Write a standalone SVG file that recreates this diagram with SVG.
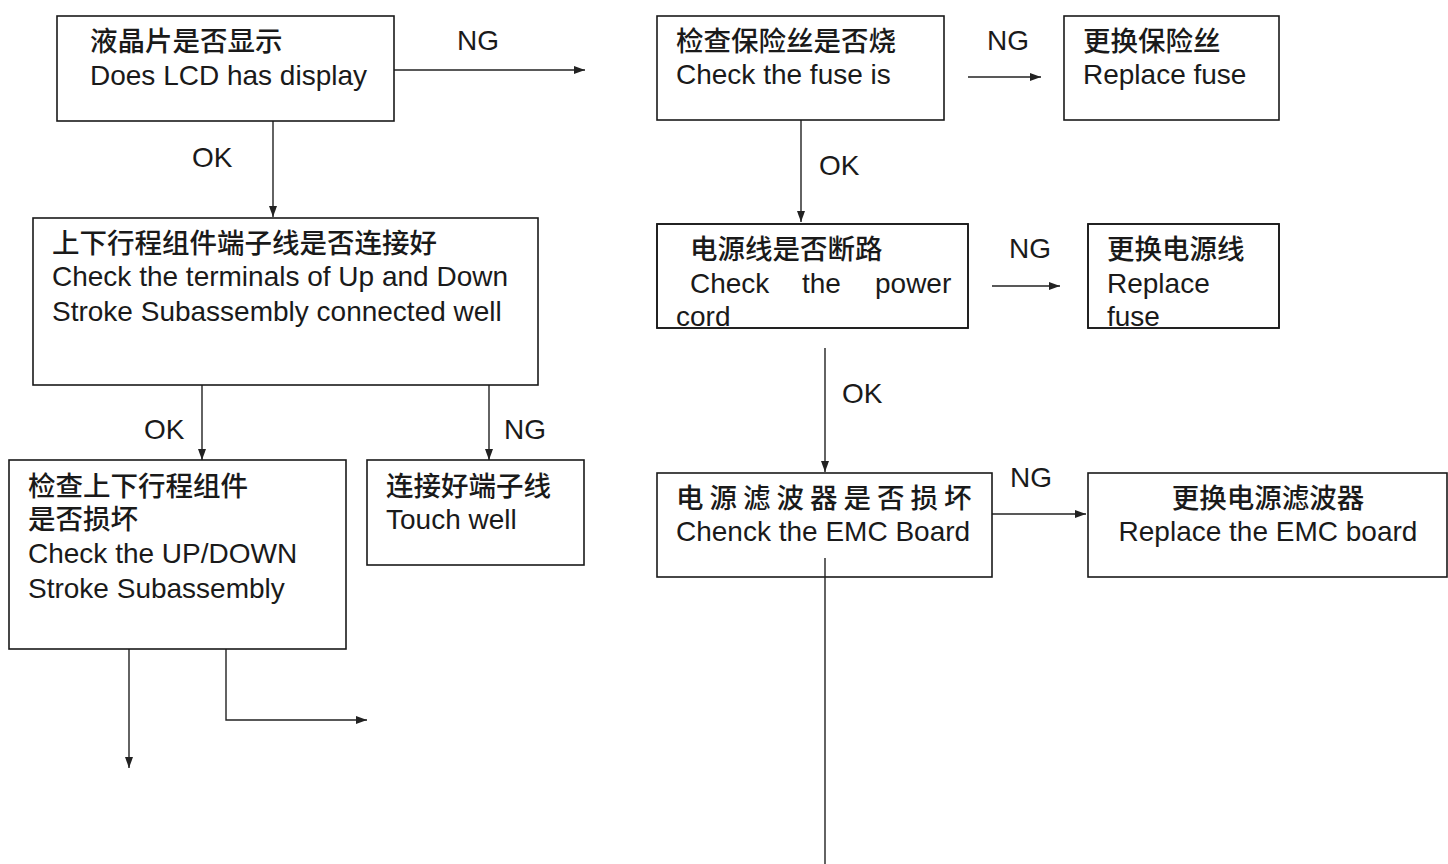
<svg xmlns="http://www.w3.org/2000/svg" width="1448" height="864" viewBox="0 0 1448 864">
<style>
.box{fill:#fff;stroke:#1a1a1a;stroke-width:1.6}
.t{font-family:"Liberation Sans","Noto Sans CJK SC",Arial,sans-serif;font-size:28px;fill:#1a1a1a}
.c{font-family:"Noto Sans CJK SC","Liberation Sans",sans-serif;font-size:27.5px;font-weight:500;fill:#1a1a1a}
.ln{fill:none;stroke:#222;stroke-width:1.4}
</style>
<defs>
<marker id="ah" markerUnits="userSpaceOnUse" markerWidth="12" markerHeight="10" refX="11" refY="5" orient="auto">
<path d="M0,1 L11,5 L0,9 Z" fill="#222"/>
</marker>
</defs>
<g id="connectors">
<line class="ln" x1="394" y1="70" x2="585" y2="70" marker-end="url(#ah)"/>
<line class="ln" x1="273" y1="115" x2="273" y2="217" marker-end="url(#ah)"/>
<line class="ln" x1="202" y1="385" x2="202" y2="460" marker-end="url(#ah)"/>
<line class="ln" x1="489" y1="385" x2="489" y2="460" marker-end="url(#ah)"/>
<line class="ln" x1="129" y1="623" x2="129" y2="768" marker-end="url(#ah)"/>
<path class="ln" d="M226,623 V720 H367" marker-end="url(#ah)"/>
<line class="ln" x1="968" y1="77" x2="1041" y2="77" marker-end="url(#ah)"/>
<line class="ln" x1="801" y1="120" x2="801" y2="222" marker-end="url(#ah)"/>
<line class="ln" x1="992" y1="286" x2="1060" y2="286" marker-end="url(#ah)"/>
<line class="ln" x1="825" y1="348" x2="825" y2="472" marker-end="url(#ah)"/>
<line class="ln" x1="992" y1="514" x2="1086" y2="514" marker-end="url(#ah)"/>
<text class="t" x="457" y="50">NG</text>
<text class="t" x="192" y="167">OK</text>
<text class="t" x="144" y="439">OK</text>
<text class="t" x="504" y="439">NG</text>
<text class="t" x="987" y="50">NG</text>
<text class="t" x="819" y="175">OK</text>
<text class="t" x="1009" y="258">NG</text>
<text class="t" x="842" y="403">OK</text>
<text class="t" x="1010" y="487">NG</text>
</g>
<g id="n1">
<rect class="box" x="57" y="16" width="337" height="105"/>
<text class="c" x="90" y="51">液晶片是否显示</text>
<text class="t" x="90" y="85">Does LCD has display</text>
</g>
<g id="n2">
<rect class="box" x="33" y="218" width="505" height="167"/>
<text class="c" x="52" y="253">上下行程组件端子线是否连接好</text>
<text class="t" x="52" y="286">Check the terminals of Up and Down</text>
<text class="t" x="52" y="321">Stroke Subassembly connected well</text>
</g>
<g id="n3">
<rect class="box" x="9" y="460" width="337" height="189"/>
<text class="c" x="28" y="496">检查上下行程组件</text>
<text class="c" x="28" y="529">是否损坏</text>
<text class="t" x="28" y="563">Check the UP/DOWN</text>
<text class="t" x="28" y="598">Stroke Subassembly</text>
</g>
<g id="n4">
<rect class="box" x="367" y="460" width="217" height="105"/>
<text class="c" x="386" y="496">连接好端子线</text>
<text class="t" x="386" y="529">Touch well</text>
</g>
<g id="n5">
<rect class="box" x="657" y="16" width="287" height="104"/>
<text class="c" x="676" y="51">检查保险丝是否烧</text>
<text class="t" x="676" y="84">Check the fuse is</text>
</g>
<g id="n6">
<rect class="box" x="1064" y="16" width="215" height="104"/>
<text class="c" x="1083" y="51">更换保险丝</text>
<text class="t" x="1083" y="84">Replace fuse</text>
</g>
<g id="n7">
<rect class="box" x="657" y="224" width="311" height="104"/>
<text class="c" x="690" y="259">电源线是否断路</text>
<text class="t" y="293"><tspan x="690">Check</tspan><tspan x="802">the</tspan><tspan x="875">power</tspan></text>
<text class="t" x="676" y="326">cord</text>
<rect x="657" y="224" width="311" height="104" fill="none" stroke="#1a1a1a" stroke-width="1.6"/>
</g>
<g id="n8">
<rect class="box" x="1088" y="224" width="191" height="104"/>
<text class="c" x="1107" y="259">更换电源线</text>
<text class="t" x="1107" y="293">Replace</text>
<text class="t" x="1107" y="326">fuse</text>
<rect x="1088" y="224" width="191" height="104" fill="none" stroke="#1a1a1a" stroke-width="1.6"/>
</g>
<g id="n9">
<rect class="box" x="657" y="473" width="335" height="104"/>
<text class="c" x="676" y="508" letter-spacing="6">电源滤波器是否损坏</text>
<text class="t" x="676" y="541">Chenck the EMC Board</text>
</g>
<g id="n10">
<rect class="box" x="1088" y="473" width="359" height="104"/>
<text class="c" x="1268" y="508" text-anchor="middle">更换电源滤波器</text>
<text class="t" x="1268" y="541" text-anchor="middle">Replace the EMC board</text>
</g>
<g id="connectors-top">
<line class="ln" x1="825" y1="558" x2="825" y2="864"/>
</g>
</svg>
